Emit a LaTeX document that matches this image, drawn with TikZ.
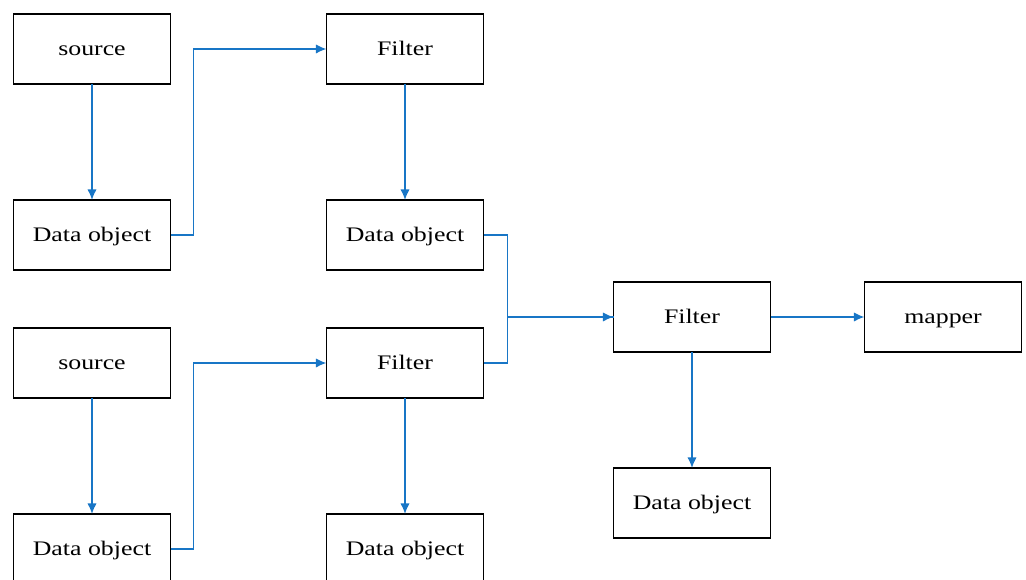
\documentclass[tikz,border=0pt]{standalone}
\usepackage{fontspec}
\setmainfont{Liberation Serif}[FakeStretch=1.25]
\usetikzlibrary{arrows.meta}

\definecolor{cLink}{RGB}{24,118,198}

\begin{document}
\begin{tikzpicture}[
  x=0.75pt, y=-0.75pt,
  font=\fontsize{15.5pt}{18pt}\selectfont,
  box/.style={
    draw, line width=1.1pt, minimum width=117.75pt, minimum height=52.5pt,
    inner sep=0pt, outer sep=0pt, text height=14pt, text depth=3.5pt
  },
  link/.style={draw=cLink, line width=1.1pt},
  flow/.style={link, -{Latex[length=8pt,width=7pt]}}
]

  % Page frame (reference size)
  \useasboundingbox (0,0) rectangle (1026,580);

  % --- First branch ---
  \node[box] (src1) at (92,49)  {source};
  \node[box] (dat1) at (92,235) {Data object};
  \node[box] (flt1) at (405,49) {Filter};
  \node[box] (dat2) at (405,235) {Data object};

  % --- Second branch ---
  \node[box] (src2) at (92,363)  {source};
  \node[box] (dat3) at (92,549)  {Data object};
  \node[box] (flt2) at (405,363) {Filter};
  \node[box] (dat4) at (405,549) {Data object};

  % --- Merge ---
  \node[box] (flt3) at (692,317) {Filter};
  \node[box] (map)  at (943,317) {mapper};
  \node[box] (dat5) at (692,503) {Data object};

  % --- LINKS ---
  \draw[flow] (src1.south) -- (dat1.north);
  \draw[flow] (dat1.east) -- ++(23,0) |- (flt1.west);
  \draw[flow] (flt1.south) -- (dat2.north);

  \draw[flow] (src2.south) -- (dat3.north);
  \draw[flow] (dat3.east) -- ++(23,0) |- (flt2.west);
  \draw[flow] (flt2.south) -- (dat4.north);

  % Two inputs joined before the last filter
  \draw[flow] (dat2.east) -- ++(24,0) |- (flt3.west);
  \draw[link] (flt2.east) -- ++(24,0) |- (flt3.west);

  \draw[flow] (flt3.east) -- (map.west);
  \draw[flow] (flt3.south) -- (dat5.north);

\end{tikzpicture}
\end{document}
